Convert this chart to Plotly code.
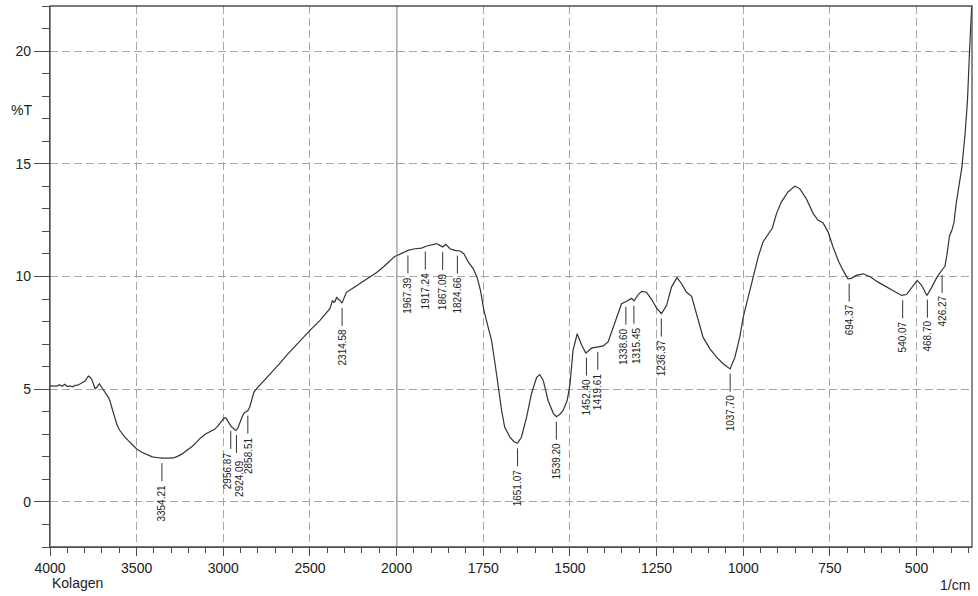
import numpy as np
import plotly.graph_objects as go

# ---------------- data ----------------
wavenumber = [
    4000, 3980, 3960, 3945, 3930, 3915, 3900, 3885, 3870, 3855, 3840, 3825, 3810,
    3798, 3785, 3778, 3768, 3758, 3748, 3740, 3732, 3722, 3715, 3705, 3695, 3683,
    3672, 3664, 3655, 3648, 3640, 3630, 3615, 3600, 3590, 3570, 3548, 3525, 3500,
    3470, 3442, 3410, 3384, 3354, 3320, 3288, 3265, 3240, 3212, 3180, 3154, 3130,
    3100, 3075, 3050, 3030, 3010, 2995, 2985, 2970, 2956, 2940, 2926, 2915, 2904,
    2890, 2880, 2870, 2858, 2848, 2840, 2823, 2805, 2789, 2750, 2711, 2670, 2635,
    2600, 2558, 2500, 2442, 2400, 2385, 2370, 2362, 2356, 2346, 2338, 2327, 2315,
    2305, 2290, 2260, 2231, 2190, 2154, 2115, 2077, 2040, 2010,
    2000, 1981, 1967, 1947, 1928, 1915, 1899, 1885, 1875, 1867, 1858, 1846, 1832,
    1817, 1806, 1793, 1779, 1768, 1758, 1748, 1736, 1726, 1716, 1707, 1697, 1688,
    1673, 1662, 1651, 1640, 1625, 1611, 1596, 1587, 1577, 1563, 1548, 1539, 1528,
    1520, 1508, 1500, 1491, 1479, 1466, 1454, 1446, 1438, 1419, 1404, 1390, 1375,
    1361, 1351, 1339, 1330, 1322, 1315, 1303, 1293, 1279, 1265, 1250, 1236, 1221,
    1207, 1191, 1178, 1164, 1149, 1140, 1125, 1116, 1096, 1077, 1058, 1038, 1024,
    1010, 1000, 986, 972, 957, 943, 928, 916, 904, 890, 871, 851, 837, 818, 798,
    784, 770, 755, 741, 724, 712, 698, 688, 674, 654, 635, 611, 587, 563, 543, 529,
    514, 498, 485, 470, 456, 441, 426, 418, 412, 405, 398, 392, 386, 379, 369, 360,
    353, 347, 343, 340,
]
transmittance = [
    5.15, 5.16, 5.14, 5.20, 5.13, 5.22, 5.12, 5.15, 5.11, 5.17, 5.18, 5.24, 5.30,
    5.36, 5.52, 5.58, 5.52, 5.42, 5.20, 5.02, 5.06, 5.20, 5.24, 5.12, 5.00, 4.91,
    4.75, 4.65, 4.50, 4.35, 4.10, 3.85, 3.46, 3.20, 3.09, 2.90, 2.72, 2.52, 2.35,
    2.20, 2.09, 2.00, 1.97, 1.94, 1.94, 1.95, 2.02, 2.12, 2.28, 2.46, 2.65, 2.85,
    3.02, 3.12, 3.22, 3.38, 3.58, 3.73, 3.72, 3.54, 3.36, 3.25, 3.17, 3.30, 3.54,
    3.80, 3.95, 4.00, 4.05, 4.20, 4.40, 4.87, 5.05, 5.18, 5.50, 5.83, 6.18, 6.50,
    6.80, 7.13, 7.61, 8.05, 8.40, 8.57, 8.94, 8.85, 8.88, 9.09, 9.00, 8.94, 8.82,
    9.05, 9.30, 9.45, 9.60, 9.78, 9.97, 10.18, 10.42, 10.70, 10.90,
    10.92, 11.08, 11.16, 11.23, 11.26, 11.34, 11.41, 11.46, 11.38, 11.31, 11.43,
    11.23, 11.16, 11.13, 11.01, 10.64, 10.35, 9.97, 9.38, 8.49, 7.75, 7.16, 6.13,
    5.09, 4.05, 3.31, 2.87, 2.68, 2.60, 2.87, 3.76, 4.80, 5.53, 5.65, 5.39, 4.50,
    3.93, 3.78, 3.90, 4.05, 4.50, 5.20, 6.72, 7.46, 6.95, 6.60, 6.72, 6.82, 6.88,
    6.92, 7.10, 7.75, 8.42, 8.79, 8.88, 8.96, 9.03, 8.92, 9.20, 9.34, 9.30, 9.00,
    8.60, 8.35, 8.72, 9.53, 9.95, 9.68, 9.31, 9.12, 8.64, 7.75, 7.31, 6.79, 6.42,
    6.13, 5.90, 6.42, 7.31, 8.20, 9.09, 9.97, 10.86, 11.53, 11.90, 12.15, 12.79,
    13.30, 13.75, 14.01, 13.90, 13.45, 12.79, 12.49, 12.39, 11.97, 11.31, 10.64,
    10.27, 9.90, 9.92, 10.05, 10.12, 10.00, 9.75, 9.53, 9.31, 9.16, 9.20, 9.53,
    9.83, 9.60, 9.16, 9.53, 9.97, 10.30, 10.45, 11.00, 11.80, 12.05, 12.40, 13.20,
    13.97, 14.86, 16.34, 17.82, 20.04, 21.50, 22.30,
]
peak_labels = [
    3354.21, 2956.87, 2924.09, 2858.51, 2314.58, 1967.39, 1917.24, 1867.09,
    1824.66, 1651.07, 1539.20, 1452.40, 1419.61, 1338.60, 1315.45, 1236.37,
    1037.70, 694.37, 540.07, 468.70, 426.27,
]
left_tick_labels = [4000, 3500, 3000, 2500]
right_tick_labels = [2000, 1750, 1500, 1250, 1000, 750, 500]
y_tick_labels = [0, 5, 10, 15, 20]
x_break = 2000          # scale changes here (2x expansion below 2000 1/cm)
x_left_range = [4000, 2000]
x_right_range = [2000, 340]
y_range = [-2, 22]

# small sideways nudges of crowded peak texts (pixels)
label_nudge = {2956.87: (-3, 0), 2924.09: (3, -4), 1338.60: (-3, 0), 1315.45: (2, 0)}

# ---------------- figure ----------------
wn = np.array(wavenumber, dtype=float)
tr = np.array(transmittance, dtype=float)
left = wn >= x_break
right = wn <= x_break

FONT = "Liberation Sans, Arial, sans-serif"
LINE = "#333333"
AXC = "#4d4d4d"
GRID = "#a6a6a6"
TXT = "#222222"

fig = go.Figure()
fig.add_trace(go.Scatter(x=wn[left], y=tr[left], xaxis="x", yaxis="y", mode="lines",
                         line=dict(color=LINE, width=1.2), hoverinfo="skip", showlegend=False))
fig.add_trace(go.Scatter(x=wn[right], y=tr[right], xaxis="x2", yaxis="y", mode="lines",
                         line=dict(color=LINE, width=1.2), hoverinfo="skip", showlegend=False))

# peak labels: short marker line below the curve + rotated value text
wn_asc = wn[::-1]
tr_asc = tr[::-1]
for p in peak_labels:
    yv = float(np.interp(p, wn_asc, tr_asc))
    xr = "x" if p > x_break else "x2"
    dx, dy = label_nudge.get(p, (0, 0))
    fig.add_shape(type="line", xref=xr, yref="y", x0=p, x1=p,
                  ysizemode="pixel", yanchor=yv, y0=-5, y1=-23,
                  line=dict(color="#333333", width=1))
    fig.add_annotation(
        x=p, y=yv, xref=xr, yref="y", yshift=-25 + dy, xshift=dx,
        text=f"{p:.2f}", textangle=-90, showarrow=False,
        xanchor="center", yanchor="top", borderpad=0,
        font=dict(family=FONT, size=10, color=TXT),
    )

# axis labels
fig.add_annotation(x=-0.0314, y=0.808, xref="paper", yref="paper", text="%T",
                   showarrow=False, xanchor="center", yanchor="middle",
                   font=dict(family=FONT, size=14, color=TXT))
fig.add_annotation(x=0.0, y=-0.066, xref="paper", yref="paper", text="Kolagen",
                   showarrow=False, xanchor="left", yanchor="middle",
                   font=dict(family=FONT, size=14, color=TXT))
fig.add_annotation(x=1.0, y=-0.071, xref="paper", yref="paper", text="1/cm",
                   showarrow=False, xanchor="right", yanchor="middle",
                   font=dict(family=FONT, size=14, color=TXT))

# frame and scale break line
fig.add_shape(type="rect", xref="paper", yref="paper", x0=0, x1=1, y0=0, y1=1,
              line=dict(color=AXC, width=1.3), layer="above")
fig.add_shape(type="line", xref="x2", yref="paper", x0=x_break, x1=x_break, y0=0, y1=1,
              line=dict(color="#333333", width=1.3), layer="above")

d = (x_left_range[0] - x_left_range[1]) / ((x_left_range[0] - x_left_range[1])
                                           + 2 * (x_right_range[0] - x_right_range[1]))

common_x = dict(
    ticks="outside", ticklen=8, tickwidth=1, tickcolor=AXC,
    showline=True, linecolor=AXC, linewidth=1.3, zeroline=False,
    showgrid=True, gridcolor=GRID, gridwidth=1, griddash="8px,4px",
    tickfont=dict(family=FONT, size=14, color=TXT),
)
fig.update_layout(
    width=978, height=596,
    margin=dict(l=50, r=6, t=6, b=49),
    paper_bgcolor="white", plot_bgcolor="white",
    showlegend=False,
    xaxis=dict(domain=[0, d], range=x_left_range, tickmode="array",
               tickvals=left_tick_labels, anchor="y",
               minor=dict(ticks="outside", ticklen=5, tickmode="linear", dtick=100, tick0=0,
                          tickcolor=AXC, showgrid=False),
               **common_x),
    xaxis2=dict(domain=[d, 1], range=x_right_range, tickmode="array",
                tickvals=right_tick_labels, anchor="y",
                minor=dict(ticks="outside", ticklen=5, tickmode="linear", dtick=50, tick0=0,
                           tickcolor=AXC, showgrid=False),
                **common_x),
    yaxis=dict(range=y_range, tickmode="array", tickvals=y_tick_labels, anchor="x",
               ticks="outside", ticklen=15, tickwidth=1, tickcolor=AXC,
               showline=True, linecolor=AXC, linewidth=1.3, zeroline=False,
               showgrid=True, gridcolor=GRID, gridwidth=1, griddash="8px,4px",
               minor=dict(ticks="outside", ticklen=7, tickmode="linear", dtick=1, tick0=0,
                          tickcolor=AXC, showgrid=False),
               tickfont=dict(family=FONT, size=14, color=TXT)),
)

fig.write_html("out.html", config={"displayModeBar": False},
               post_script="document.body.style.margin='0';")
